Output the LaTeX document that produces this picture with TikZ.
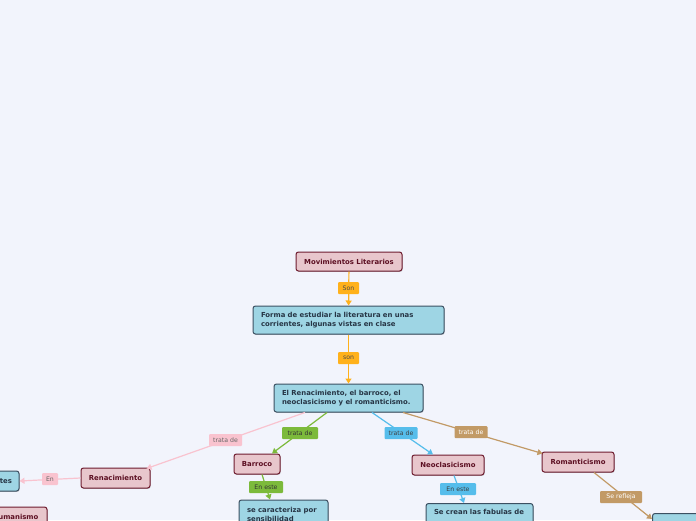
\documentclass[tikz,border=0pt]{standalone}
\usepackage{fontspec}
\setmainfont{DejaVu Sans}
\usetikzlibrary{arrows.meta,shadows}
\definecolor{bg}{HTML}{F2F4FC}
\definecolor{pinkfill}{HTML}{E8C6CC}
\definecolor{pinkdraw}{HTML}{6E1B2E}
\definecolor{pinktext}{HTML}{5C0F22}
\definecolor{bluefill}{HTML}{9ED5E4}
\definecolor{bluedraw}{HTML}{3C5062}
\definecolor{bluetext}{HTML}{263545}
\definecolor{corange}{HTML}{FFB11B}
\definecolor{cgreen}{HTML}{7CBA3B}
\definecolor{csky}{HTML}{56BDEB}
\definecolor{ctan}{HTML}{C29A66}
\definecolor{clpink}{HTML}{F9C3CF}
\tikzset{
  shad/.style={drop shadow={shadow xshift=0.6pt, shadow yshift=-0.9pt, opacity=0.22, fill=black}},
  topic/.style={shad, draw=pinkdraw, fill=pinkfill, rounded corners=2.5pt, line width=1pt,
    font=\fontsize{6.9}{9}\selectfont\bfseries, text=pinktext, inner sep=0pt},
  sub/.style={shad, draw=bluedraw, fill=bluefill, rounded corners=2.5pt, line width=1pt,
    font=\fontsize{6.9}{9}\selectfont\bfseries, text=bluetext, align=left, inner xsep=8pt, inner ysep=0pt},
  lab/.style={rounded corners=1pt, inner sep=0pt, minimum height=12pt,
    font=\fontsize{6.2}{7}\selectfont},
  conn/.style={line width=1.2pt, -{Triangle[width=6pt,length=5pt]}},
}
\begin{document}
\begin{tikzpicture}[x=1pt,y=-1pt]
\fill[bg] (0,0) rectangle (696,520);
\clip (0,0) rectangle (696,520);
\useasboundingbox (0,0) rectangle (696,520);
% main nodes
\node[topic, minimum width=106, minimum height=19] (mov) at (349,261.5) {Movimientos Literarios};
\node[sub, text width=175, minimum height=28] (forma) at (348.5,320)
  {Forma de estudiar la literatura en unas\\corrientes, algunas vistas en clase};
\node[sub, text width=133, minimum height=28] (elren) at (348.5,398)
  {El Renacimiento, el barroco, el\\neoclasicismo y el romanticismo.};
\node[topic, minimum width=69, minimum height=20] (renac) at (115.5,478) {Renacimiento};
\node[topic, minimum width=46, minimum height=20] (barroco) at (257,464) {Barroco};
\node[topic, minimum width=72, minimum height=20] (neo) at (448,465) {Neoclasicismo};
\node[topic, minimum width=72, minimum height=20] (roman) at (578,462) {Romanticismo};
\node[sub, text width=45, inner xsep=7pt, align=right, minimum height=20] (tes) at (-10.5,481) {tes};
\node[topic, minimum width=63, minimum height=20] (human) at (15.5,517) {Humanismo};
\node[sub, text width=73, minimum height=28] (secar) at (283.5,514)
  {se caracteriza por\\sensibilidad};
\node[sub, text width=91, anchor=north, inner ysep=5pt, text height=6pt, text depth=22pt] (secrean) at (479.5,503)
  {Se crean las fabulas de};
\node[sub, anchor=north west, minimum width=60, minimum height=22] (child) at (652,513) {};
% connectors
\draw[conn, corange] (mov) -- (forma);
\draw[conn, corange] (forma) -- (elren);
\draw[conn, clpink] ([xshift=-43.5pt]elren.south) -- ([xshift=-4pt,yshift=-1pt]renac.north east);
\draw[conn, cgreen] ([xshift=-21.5pt]elren.south) -- ([xshift=15pt]barroco.north);
\draw[conn, csky] ([xshift=23.5pt]elren.south) -- ([xshift=-15pt]neo.north);
\draw[conn, ctan] ([xshift=54.5pt]elren.south) -- ([xshift=1pt,yshift=-2pt]roman.north west);
\draw[conn, clpink] (renac.west) -- (tes.east);
\draw[conn, cgreen] ([xshift=5pt]barroco.south) -- ([xshift=-13.5pt]secar.north);
\draw[conn, csky] ([xshift=6pt]neo.south) -- ([xshift=-15.5pt]secrean.north);
\draw[conn, ctan] ([xshift=16pt]roman.south) -- ([yshift=-6pt]child.north west);
% labels
\node[lab, fill=corange, text=black!70, minimum width=21] (l1) at (348.5,288) {Son};
\node[lab, fill=corange, text=black!70, minimum width=21] (l2) at (348.5,358) {son};
\node[lab, fill=clpink, text=black!60, minimum width=33] (l3) at (225.5,440) {trata de};
\node[lab, fill=cgreen, text=black!80, minimum width=36] (l4) at (300,433) {trata de};
\node[lab, fill=csky, text=black!75, minimum width=33] (l5) at (401,433) {trata de};
\node[lab, fill=ctan, text=white, minimum width=33] (l6) at (471,432) {trata de};
\node[lab, fill=clpink, text=black!60, minimum width=16] (l7) at (50,479) {En};
\node[lab, fill=cgreen, text=black!80, minimum width=34] (l8) at (266,487) {En este};
\node[lab, fill=csky, text=black!75, minimum width=36] (l9) at (458,489) {En este};
\node[lab, fill=ctan, text=white, minimum width=42] (l10) at (621,497) {Se refleja};
\end{tikzpicture}
\end{document}
